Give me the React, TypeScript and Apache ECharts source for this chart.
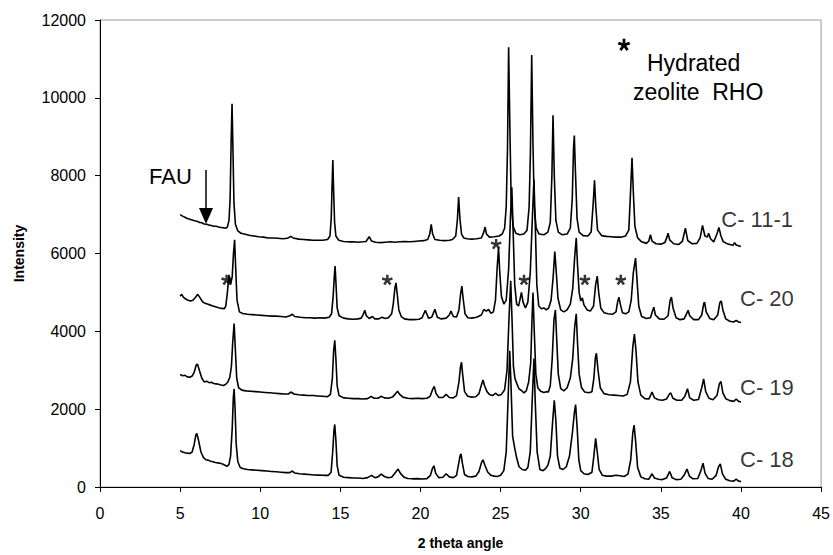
import React, { useEffect, useRef } from "react";
import * as echarts from "echarts";

// 2θ (deg), intensity (counts)
const c111: number[][] = [
  [5.0, 7000], [5.15, 6960], [5.3, 6930], [5.45, 6900], [5.6, 6880], [5.75, 6860], [5.9, 6840], [6.05, 6830], [6.2, 6800], [6.35, 6790], [6.5, 6760], [6.65, 6750], [6.8, 6730], [6.95, 6720], [7.1, 6700], [7.25, 6700], [7.4, 6680], [7.55, 6670], [7.7, 6660], [7.85, 6650], [7.95, 6680], [8.05, 6850], [8.12, 7400], [8.18, 8800], [8.24, 9850], [8.3, 8600], [8.36, 7300], [8.45, 6750], [8.6, 6580], [8.8, 6520], [9.0, 6500], [9.3, 6470], [9.6, 6450], [9.9, 6430], [10.2, 6420], [10.5, 6400], [10.8, 6400], [11.1, 6390], [11.4, 6380], [11.7, 6390], [11.9, 6440], [12.05, 6400], [12.4, 6370], [12.7, 6360], [13.0, 6350], [13.3, 6340], [13.6, 6340], [13.9, 6340], [14.2, 6360], [14.35, 6450], [14.43, 6900], [14.48, 7700], [14.53, 8400], [14.58, 7600], [14.64, 6800], [14.72, 6450], [14.9, 6340], [15.2, 6310], [15.5, 6300], [15.8, 6300], [16.1, 6290], [16.4, 6300], [16.6, 6310], [16.8, 6430], [16.95, 6320], [17.2, 6290], [17.5, 6280], [17.8, 6290], [18.1, 6300], [18.4, 6290], [18.7, 6300], [19.0, 6310], [19.3, 6300], [19.6, 6310], [19.9, 6320], [20.2, 6330], [20.45, 6360], [20.58, 6500], [20.67, 6750], [20.76, 6500], [20.9, 6360], [21.2, 6340], [21.5, 6330], [21.8, 6340], [22.0, 6360], [22.2, 6450], [22.3, 6850], [22.38, 7450], [22.46, 6900], [22.56, 6500], [22.7, 6400], [22.9, 6380], [23.2, 6370], [23.5, 6380], [23.8, 6400], [23.95, 6550], [24.03, 6680], [24.12, 6500], [24.3, 6420], [24.6, 6430], [24.9, 6450], [25.1, 6500], [25.25, 6650], [25.35, 7200], [25.43, 8700], [25.5, 11300], [25.58, 9200], [25.66, 7300], [25.78, 6700], [25.95, 6520], [26.2, 6480], [26.45, 6500], [26.65, 6600], [26.78, 7200], [26.86, 8600], [26.94, 11100], [27.02, 8800], [27.1, 7200], [27.22, 6650], [27.4, 6500], [27.7, 6480], [27.95, 6550], [28.1, 6800], [28.2, 8000], [28.27, 9550], [28.35, 8000], [28.45, 6850], [28.6, 6550], [28.85, 6480], [29.15, 6500], [29.35, 6650], [29.47, 7400], [29.55, 8700], [29.6, 9030], [29.67, 8100], [29.77, 6900], [29.9, 6550], [30.15, 6460], [30.45, 6450], [30.65, 6550], [30.78, 7300], [30.86, 7880], [30.94, 7200], [31.05, 6600], [31.3, 6460], [31.6, 6440], [31.9, 6430], [32.2, 6420], [32.5, 6420], [32.8, 6450], [33.0, 6600], [33.1, 7500], [33.2, 8460], [33.28, 7600], [33.38, 6700], [33.55, 6400], [33.8, 6300], [34.1, 6260], [34.25, 6320], [34.35, 6480], [34.45, 6320], [34.7, 6250], [35.0, 6240], [35.25, 6280], [35.38, 6420], [35.45, 6520], [35.55, 6350], [35.8, 6250], [36.1, 6230], [36.35, 6320], [36.53, 6650], [36.68, 6330], [36.95, 6250], [37.25, 6260], [37.45, 6400], [37.6, 6720], [37.75, 6450], [37.9, 6420], [37.98, 6520], [38.1, 6380], [38.3, 6300], [38.5, 6500], [38.62, 6670], [38.75, 6450], [38.9, 6300], [39.1, 6260], [39.3, 6230], [39.5, 6210], [39.6, 6280], [39.7, 6220], [39.85, 6200], [40.0, 6180],
];

const c20: number[][] = [
  [5.0, 4900], [5.1, 4950], [5.2, 4880], [5.35, 4830], [5.5, 4800], [5.65, 4780], [5.8, 4800], [5.95, 4870], [6.1, 4950], [6.25, 4860], [6.4, 4760], [6.55, 4720], [6.7, 4700], [6.85, 4680], [7.0, 4660], [7.15, 4640], [7.3, 4620], [7.45, 4600], [7.6, 4590], [7.75, 4580], [7.85, 4650], [7.95, 5000], [8.05, 5450], [8.15, 5200], [8.25, 5400], [8.33, 6000], [8.4, 6350], [8.47, 5600], [8.55, 4800], [8.7, 4500], [8.9, 4460], [9.2, 4440], [9.5, 4430], [9.8, 4420], [10.1, 4410], [10.4, 4400], [10.7, 4390], [11.0, 4390], [11.3, 4380], [11.6, 4370], [11.85, 4400], [12.0, 4440], [12.15, 4380], [12.5, 4360], [12.8, 4350], [13.1, 4350], [13.4, 4340], [13.7, 4350], [14.0, 4340], [14.3, 4360], [14.45, 4450], [14.55, 4900], [14.62, 5400], [14.67, 5680], [14.73, 5200], [14.8, 4600], [14.92, 4400], [15.2, 4340], [15.5, 4320], [15.8, 4310], [16.1, 4320], [16.3, 4340], [16.42, 4430], [16.52, 4540], [16.62, 4400], [16.8, 4330], [17.0, 4380], [17.15, 4320], [17.4, 4320], [17.6, 4360], [17.8, 4330], [18.0, 4350], [18.2, 4450], [18.3, 4700], [18.4, 5100], [18.47, 5245], [18.55, 4950], [18.65, 4550], [18.8, 4380], [19.0, 4320], [19.3, 4300], [19.6, 4300], [19.9, 4310], [20.1, 4350], [20.3, 4540], [20.5, 4340], [20.7, 4360], [20.9, 4565], [21.05, 4360], [21.3, 4320], [21.6, 4340], [21.8, 4420], [21.9, 4520], [22.05, 4380], [22.25, 4370], [22.4, 4550], [22.5, 4950], [22.58, 5160], [22.66, 4850], [22.78, 4450], [22.95, 4350], [23.2, 4340], [23.5, 4360], [23.8, 4420], [23.95, 4560], [24.1, 4520], [24.25, 4560], [24.4, 4460], [24.55, 4500], [24.68, 4800], [24.78, 5600], [24.87, 6150], [24.95, 5500], [25.05, 4900], [25.2, 4700], [25.35, 4800], [25.5, 5600], [25.62, 7000], [25.7, 7700], [25.78, 6600], [25.88, 5200], [26.0, 4700], [26.12, 4650], [26.2, 4800], [26.3, 5000], [26.4, 4750], [26.55, 4600], [26.7, 4750], [26.85, 5500], [26.98, 6900], [27.08, 7900], [27.16, 6800], [27.26, 5200], [27.38, 4650], [27.55, 4580], [27.7, 4600], [27.85, 4550], [28.0, 4600], [28.15, 4800], [28.28, 5400], [28.38, 6050], [28.46, 5600], [28.58, 4850], [28.75, 4550], [28.95, 4500], [29.15, 4550], [29.35, 4700], [29.5, 5100], [29.62, 5900], [29.72, 6400], [29.8, 5700], [29.9, 5000], [30.0, 4780], [30.1, 4860], [30.2, 4680], [30.4, 4550], [30.6, 4520], [30.8, 4650], [30.93, 5200], [31.03, 5420], [31.12, 5000], [31.25, 4600], [31.45, 4480], [31.7, 4450], [32.0, 4440], [32.2, 4500], [32.3, 4750], [32.38, 4880], [32.47, 4700], [32.6, 4480], [32.8, 4450], [33.0, 4500], [33.15, 4800], [33.28, 5500], [33.42, 5880], [33.5, 5400], [33.62, 4650], [33.8, 4380], [34.1, 4330], [34.35, 4350], [34.48, 4520], [34.56, 4620], [34.66, 4420], [34.9, 4320], [35.2, 4310], [35.45, 4400], [35.58, 4800], [35.66, 4880], [35.76, 4600], [35.95, 4350], [36.2, 4300], [36.45, 4320], [36.6, 4450], [36.7, 4540], [36.8, 4400], [37.05, 4300], [37.35, 4300], [37.55, 4420], [37.68, 4720], [37.73, 4750], [37.83, 4500], [38.05, 4330], [38.3, 4300], [38.55, 4420], [38.68, 4740], [38.77, 4780], [38.87, 4550], [39.05, 4320], [39.3, 4260], [39.55, 4240], [39.7, 4280], [39.85, 4240], [40.0, 4225],
];

const c19: number[][] = [
  [5.0, 2890], [5.15, 2860], [5.3, 2870], [5.45, 2830], [5.6, 2820], [5.75, 2850], [5.88, 2950], [6.0, 3130], [6.08, 3160], [6.2, 3000], [6.35, 2800], [6.5, 2700], [6.65, 2720], [6.8, 2680], [6.95, 2690], [7.1, 2660], [7.25, 2650], [7.4, 2640], [7.55, 2620], [7.7, 2610], [7.85, 2640], [7.98, 2700], [8.1, 2820], [8.2, 3100], [8.28, 3700], [8.37, 4200], [8.45, 3500], [8.53, 2800], [8.65, 2550], [8.85, 2490], [9.1, 2470], [9.4, 2460], [9.7, 2450], [10.0, 2440], [10.3, 2430], [10.6, 2420], [10.9, 2410], [11.2, 2400], [11.5, 2390], [11.75, 2390], [11.94, 2440], [12.1, 2390], [12.4, 2370], [12.7, 2360], [13.0, 2350], [13.3, 2350], [13.6, 2340], [13.9, 2330], [14.2, 2320], [14.38, 2380], [14.5, 2800], [14.58, 3500], [14.65, 3770], [14.72, 3300], [14.8, 2600], [14.92, 2350], [15.2, 2290], [15.5, 2280], [15.8, 2270], [16.1, 2270], [16.4, 2260], [16.7, 2270], [16.92, 2330], [17.1, 2280], [17.35, 2280], [17.54, 2330], [17.75, 2290], [18.0, 2280], [18.25, 2310], [18.45, 2400], [18.57, 2460], [18.7, 2380], [18.9, 2310], [19.2, 2280], [19.5, 2270], [19.8, 2280], [20.1, 2270], [20.4, 2280], [20.6, 2330], [20.75, 2500], [20.86, 2585], [20.97, 2400], [21.15, 2300], [21.4, 2300], [21.6, 2380], [21.8, 2300], [22.05, 2290], [22.25, 2350], [22.4, 2700], [22.5, 3100], [22.56, 3205], [22.63, 2900], [22.75, 2450], [22.95, 2330], [23.2, 2310], [23.45, 2320], [23.65, 2400], [23.8, 2620], [23.9, 2750], [24.0, 2600], [24.15, 2450], [24.3, 2380], [24.5, 2350], [24.7, 2410], [24.85, 2350], [25.05, 2380], [25.25, 2500], [25.4, 3000], [25.52, 4300], [25.63, 5300], [25.72, 4200], [25.8, 3100], [25.9, 2780], [26.02, 2650], [26.15, 2520], [26.3, 2480], [26.45, 2420], [26.6, 2470], [26.75, 2700], [26.88, 3200], [26.95, 4200], [27.02, 5000], [27.1, 4000], [27.2, 2900], [27.32, 2550], [27.5, 2460], [27.7, 2430], [27.85, 2450], [27.98, 2440], [28.1, 2600], [28.22, 3300], [28.33, 4300], [28.42, 4550], [28.5, 3800], [28.6, 2900], [28.75, 2530], [28.95, 2470], [29.15, 2550], [29.35, 2800], [29.5, 3300], [29.62, 4100], [29.72, 4450], [29.8, 3700], [29.9, 2900], [30.05, 2550], [30.25, 2440], [30.5, 2420], [30.7, 2450], [30.82, 2800], [30.92, 3350], [30.98, 3435], [31.08, 3000], [31.22, 2550], [31.45, 2400], [31.75, 2370], [32.05, 2360], [32.35, 2350], [32.65, 2340], [32.9, 2380], [33.1, 2700], [33.25, 3600], [33.35, 3930], [33.45, 3500], [33.57, 2700], [33.75, 2360], [34.0, 2270], [34.25, 2260], [34.45, 2440], [34.6, 2290], [34.85, 2240], [35.1, 2230], [35.35, 2260], [35.55, 2400], [35.62, 2415], [35.75, 2280], [36.0, 2230], [36.3, 2230], [36.5, 2330], [36.66, 2525], [36.8, 2290], [37.05, 2230], [37.35, 2250], [37.55, 2550], [37.67, 2780], [37.8, 2450], [38.0, 2280], [38.25, 2240], [38.5, 2350], [38.65, 2650], [38.75, 2710], [38.87, 2420], [39.05, 2270], [39.3, 2220], [39.55, 2200], [39.7, 2260], [39.85, 2200], [40.0, 2185],
];

const c18: number[][] = [
  [5.0, 930], [5.15, 900], [5.3, 880], [5.45, 870], [5.6, 860], [5.75, 900], [5.88, 1100], [5.98, 1330], [6.04, 1377], [6.15, 1200], [6.3, 900], [6.45, 760], [6.6, 700], [6.75, 690], [6.9, 660], [7.05, 650], [7.2, 630], [7.35, 620], [7.5, 610], [7.65, 590], [7.8, 560], [7.92, 530], [8.05, 580], [8.15, 800], [8.25, 1500], [8.32, 2300], [8.37, 2520], [8.43, 2000], [8.5, 1100], [8.6, 650], [8.75, 500], [8.95, 470], [9.2, 450], [9.5, 440], [9.8, 430], [10.1, 420], [10.4, 410], [10.7, 400], [11.0, 390], [11.3, 380], [11.6, 370], [11.85, 370], [12.0, 410], [12.15, 360], [12.45, 340], [12.75, 330], [13.05, 320], [13.35, 310], [13.65, 305], [13.95, 300], [14.25, 300], [14.42, 380], [14.52, 900], [14.6, 1450], [14.65, 1607], [14.72, 1200], [14.8, 550], [14.92, 300], [15.2, 250], [15.5, 240], [15.8, 230], [16.1, 230], [16.4, 220], [16.7, 240], [16.95, 300], [17.15, 240], [17.35, 260], [17.55, 330], [17.75, 270], [17.95, 240], [18.2, 250], [18.45, 380], [18.6, 460], [18.75, 350], [18.95, 260], [19.2, 220], [19.5, 210], [19.8, 215], [20.1, 205], [20.4, 215], [20.62, 300], [20.75, 480], [20.84, 545], [20.95, 350], [21.15, 240], [21.4, 250], [21.6, 340], [21.8, 260], [22.05, 240], [22.25, 300], [22.38, 600], [22.48, 820], [22.53, 851], [22.62, 600], [22.75, 320], [22.95, 270], [23.2, 260], [23.45, 280], [23.65, 400], [23.8, 620], [23.9, 700], [24.02, 560], [24.2, 380], [24.4, 300], [24.6, 280], [24.8, 270], [25.0, 300], [25.2, 420], [25.35, 900], [25.47, 2300], [25.57, 3500], [25.65, 2600], [25.75, 1300], [25.88, 1000], [26.0, 750], [26.15, 520], [26.35, 450], [26.55, 430], [26.7, 500], [26.85, 900], [26.97, 2200], [27.08, 3300], [27.16, 2200], [27.28, 900], [27.45, 450], [27.65, 420], [27.82, 480], [27.96, 570], [28.1, 800], [28.25, 1700], [28.35, 2228], [28.45, 1700], [28.55, 800], [28.7, 480], [28.9, 450], [29.1, 520], [29.3, 800], [29.48, 1400], [29.6, 1900], [29.68, 2117], [29.78, 1500], [29.88, 700], [30.0, 420], [30.2, 340], [30.45, 320], [30.7, 380], [30.82, 800], [30.93, 1250], [31.03, 900], [31.15, 450], [31.35, 300], [31.6, 280], [31.9, 280], [32.2, 300], [32.45, 290], [32.7, 270], [32.95, 330], [33.12, 700], [33.25, 1400], [33.33, 1590], [33.42, 1200], [33.55, 500], [33.75, 260], [34.0, 210], [34.25, 200], [34.45, 340], [34.6, 230], [34.85, 200], [35.1, 190], [35.35, 230], [35.55, 400], [35.7, 240], [35.95, 190], [36.25, 200], [36.45, 300], [36.63, 460], [36.78, 280], [37.0, 210], [37.3, 220], [37.5, 420], [37.63, 612], [37.76, 350], [37.95, 220], [38.2, 200], [38.45, 300], [38.6, 520], [38.71, 595], [38.85, 330], [39.05, 200], [39.3, 160], [39.55, 150], [39.7, 200], [39.85, 150], [40.0, 145],
];

// sample names placed at [2θ, intensity]
const sampleLabels: (number | string)[][] = [
  [38.8, 6850, "C- 11-1"],
  [39.97, 4840, "C- 20"],
  [39.97, 2540, "C- 19"],
  [39.97, 700, "C- 18"],
];

// hydrated zeolite RHO reflections marked with *
const rhoMarks: number[][] = [
  [7.9, 5320],
  [17.93, 5320],
  [24.72, 6240],
  [26.46, 5320],
  [30.26, 5320],
  [32.5, 5320],
];

const FONT = "'Liberation Sans', Arial, Helvetica, sans-serif";

// five-armed asterisk outline (unit ≈ 1px)
const ASTERISK =
  "M-1.15,0.8L-1.15,-5L1.15,-5L1.15,0.8Z" +
  "M-1.116,-0.847L4.4,-2.639L5.11,-0.451L-0.406,1.341Z" +
  "M0.46,-1.323L3.87,3.369L2.01,4.721L-1.4,0.029Z" +
  "M1.4,0.029L-2.01,4.721L-3.87,3.369L-0.46,-1.323Z" +
  "M0.406,1.341L-5.11,-0.451L-4.4,-2.639L1.116,-0.847Z";

let registered = false;

export default function App() {
  const ref = useRef<HTMLDivElement>(null);
  useEffect(() => {
    if (!ref.current) return;
    if (!registered) {
      echarts.graphic.registerShape("asterisk", echarts.graphic.extendPath(ASTERISK, {}));
      registered = true;
    }
    const chart = echarts.init(ref.current, undefined, { renderer: "svg" });
    const line = (name: string, data: number[][]) => ({
      name,
      type: "line",
      data,
      showSymbol: false,
      symbol: "none",
      silent: true,
      lineStyle: { color: "#000", width: 1.6 },
    });
    chart.setOption({
      animation: false,
      backgroundColor: "#fff",
      grid: {
        left: 100,
        right: 10,
        top: 20,
        bottom: 64,
        show: true,
        borderColor: "#9a9a9a",
        borderWidth: 1,
        backgroundColor: "transparent",
      },
      xAxis: {
        type: "value",
        min: 0,
        max: 45,
        interval: 5,
        name: "2 theta angle",
        nameLocation: "middle",
        nameGap: 49,
        nameTextStyle: { fontFamily: FONT, fontSize: 14, fontWeight: "bold", color: "#000" },
        axisLine: { lineStyle: { color: "#000", width: 1 } },
        axisTick: { show: true, inside: false, length: 5, lineStyle: { color: "#000" } },
        axisLabel: { fontFamily: FONT, fontSize: 16, color: "#000", margin: 18 },
        splitLine: { show: false },
      },
      yAxis: {
        type: "value",
        min: 0,
        max: 12000,
        interval: 2000,
        name: "Intensity",
        nameLocation: "middle",
        nameRotate: 90,
        nameGap: 74,
        nameTextStyle: { fontFamily: FONT, fontSize: 14, fontWeight: "bold", color: "#000" },
        axisLine: { show: true, lineStyle: { color: "#000", width: 1 } },
        axisTick: { show: true, inside: false, length: 5, lineStyle: { color: "#000" } },
        axisLabel: {
          fontFamily: FONT,
          fontSize: 16,
          color: "#000",
          margin: 14,
          formatter: (v: number) => String(v),
        },
        splitLine: { show: false },
      },
      series: [
        line("C- 18", c18),
        line("C- 19", c19),
        line("C- 20", c20),
        line("C- 11-1", c111),
        {
          type: "scatter",
          data: sampleLabels,
          symbolSize: 1,
          silent: true,
          itemStyle: { color: "transparent" },
          label: {
            show: true,
            position: [0, 0],
            align: "left",
            verticalAlign: "middle",
            formatter: (p: any) => p.data[2],
            fontFamily: FONT,
            fontSize: 22,
            color: "#000",
          },
          z: 5,
        },
        {
          type: "scatter",
          data: rhoMarks,
          symbol: "path://" + ASTERISK,
          symbolSize: [11, 10.5],
          silent: true,
          itemStyle: { color: "#000" },
          z: 5,
        },
      ],
      graphic: [
        {
          type: "text",
          left: 149,
          top: 165,
          style: { text: "FAU", font: `22px ${FONT}`, fill: "#000" },
        },
        {
          type: "line",
          shape: { x1: 206, y1: 170, x2: 206, y2: 210 },
          style: { stroke: "#000", lineWidth: 1.5 },
        },
        {
          type: "polygon",
          shape: { points: [[199, 208], [213, 208], [206, 224]] },
          style: { fill: "#000" },
        },
        {
          type: "asterisk",
          x: 624,
          y: 45,
          scaleX: 1.2,
          scaleY: 1.25,
          style: { fill: "#000" },
        },
        {
          type: "text",
          left: 647,
          top: 51,
          style: { text: "Hydrated", font: `23px ${FONT}`, fill: "#000" },
        },
        {
          type: "text",
          left: 633,
          top: 80,
          style: { text: "zeolite  RHO", font: `23px ${FONT}`, fill: "#000" },
        },
      ],
    });
    return () => chart.dispose();
  }, []);
  return (
    <div
      ref={ref}
      style={{ position: "absolute", left: 0, top: 0, width: 833, height: 555 }}
    />
  );
}
